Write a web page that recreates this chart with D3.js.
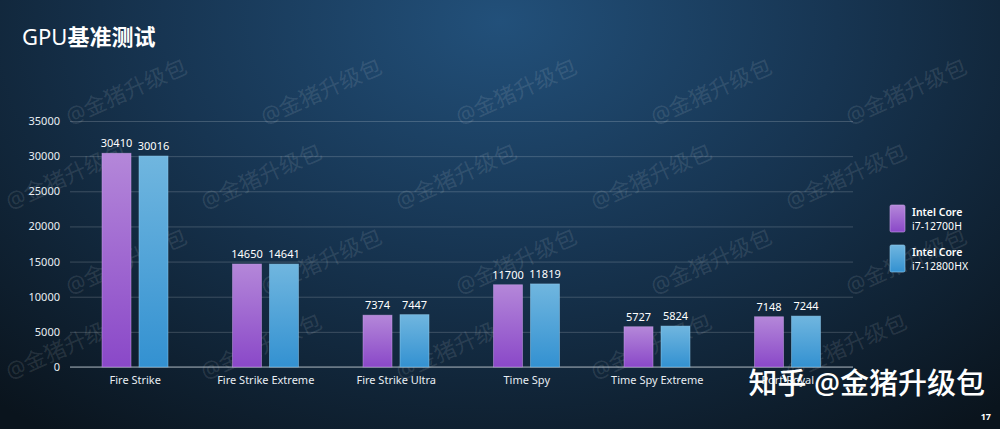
<!DOCTYPE html>
<html>
<head>
<meta charset="utf-8">
<script src="https://cdn.jsdelivr.net/npm/d3@7"></script>
<style>
  html, body { margin: 0; padding: 0; background: #0b1620; }
  svg { display: block; }
  text { font-family: "Noto Sans", "Noto Sans CJK SC", sans-serif; }
</style>
</head>
<body>
<div id="chart"></div>
<script>
// chart data
const categories = ["Fire Strike", "Fire Strike Extreme", "Fire Strike Ultra", "Time Spy", "Time Spy Extreme", "Port Royal"];
const seriesNames = ["i7-12700H", "i7-12800HX"];
const h12700 = [30410, 14650, 7374, 11700, 5727, 7148];
const hx12800 = [30016, 14641, 7447, 11819, 5824, 7244];
const yTicks = [0, 5000, 10000, 15000, 20000, 25000, 30000, 35000];

const W = 1000, H = 429;
const svg = d3.select("#chart").append("svg").attr("width", W).attr("height", H);
const defs = svg.append("defs");

// background: dark navy with a lighter glow near the top centre
const bg = defs.append("radialGradient").attr("id", "bg")
  .attr("cx", "0.5").attr("cy", "0.05").attr("r", "0.75")
  .attr("gradientTransform", "translate(0.5 0.05) scale(1 1.6) translate(-0.5 -0.05)");
bg.append("stop").attr("offset", "0").attr("stop-color", "#22507a");
bg.append("stop").attr("offset", "0.45").attr("stop-color", "#173552");
bg.append("stop").attr("offset", "1").attr("stop-color", "#0a141d");
svg.append("rect").attr("width", W).attr("height", H).attr("fill", "url(#bg)");

// faint tiled watermark (only copies that fit inside the page)
const wm = svg.append("g").attr("fill", "#ffffff").attr("fill-opacity", 0.11)
  .style("font-size", "22px");
for (let r = -1; r < 7; r++) {
  for (let c = -1; c < 6; c++) {
    const x = c * 195 + (r % 2) * 60 + 10;
    const y = r * 85 + 40;
    if (x < 2 || x + 128 > W || y - 62 < 0 || y + 6 > H) continue;
    wm.append("text").attr("transform", `translate(${x},${y}) rotate(-24)`).text("@金猪升级包");
  }
}

// title
const title = svg.append("text").attr("x", 22).attr("y", 45).attr("fill", "#ffffff")
  .style("font-size", "22px");
title.append("tspan").style("font-weight", "400").text("GPU");
title.append("tspan").style("font-weight", "bold").text("基准测试");

const margin = { left: 70, right: 147, top: 121, bottom: 62 };
const x0 = d3.scaleBand().domain(categories).range([margin.left, W - margin.right]).paddingInner(0).paddingOuter(0);
const x1 = d3.scaleBand().domain(seriesNames).range([32, 98]).paddingInner(0.216).paddingOuter(0);
const y = d3.scaleLinear().domain([0, 35000]).range([H - margin.bottom, margin.top]);

// grid lines and tick labels
const yAxis = svg.append("g").attr("transform", `translate(${margin.left},0)`)
  .call(d3.axisLeft(y).tickValues(yTicks).tickSize(-(W - margin.right - margin.left)).tickPadding(10).tickFormat(d3.format("d")));
yAxis.select(".domain").remove();
yAxis.selectAll(".tick line").attr("stroke", "#ffffff").attr("stroke-opacity", 0.18);
yAxis.selectAll(".tick text").attr("fill", "#e8eef3").style("font-size", "11px");

// baseline
svg.append("line").attr("x1", margin.left).attr("x2", W - margin.right)
  .attr("y1", y(0)).attr("y2", y(0)).attr("stroke", "#9aa6b0").attr("stroke-width", 1.2);

// bar gradients
const grads = [
  { id: "gPurple", top: "#b487d9", bottom: "#8a48c8", stroke: "#c9a3ea" },
  { id: "gBlue", top: "#70b6df", bottom: "#3391d1", stroke: "#92cdef" }
];
grads.forEach(g => {
  const lg = defs.append("linearGradient").attr("id", g.id).attr("x1", 0).attr("y1", 0).attr("x2", 0).attr("y2", 1);
  lg.append("stop").attr("offset", "0").attr("stop-color", g.top);
  lg.append("stop").attr("offset", "1").attr("stop-color", g.bottom);
});

const seriesValues = [h12700, hx12800];
const rows = categories.map((c, i) => ({
  cat: c,
  vals: seriesNames.map((s, j) => ({ s, j, v: seriesValues[j][i] }))
}));

const groups = svg.selectAll(".grp").data(rows).join("g")
  .attr("transform", d => `translate(${x0(d.cat)},0)`);

groups.selectAll("rect").data(d => d.vals).join("rect")
  .attr("x", d => x1(d.s))
  .attr("y", d => y(d.v))
  .attr("width", x1.bandwidth())
  .attr("height", d => y(0) - y(d.v))
  .attr("fill", d => `url(#${grads[d.j].id})`)
  .attr("stroke", d => grads[d.j].stroke).attr("stroke-opacity", 0.6).attr("stroke-width", 0.8);

groups.selectAll("text.val").data(d => d.vals).join("text")
  .attr("class", "val")
  .attr("x", d => x1(d.s) + x1.bandwidth() / 2)
  .attr("y", d => y(d.v) - 6)
  .attr("text-anchor", "middle").attr("fill", "#ffffff").style("font-size", "11px")
  .text(d => d.v);

// category labels
svg.append("g").selectAll("text").data(categories).join("text")
  .attr("x", d => x0(d) + x0.bandwidth() / 2)
  .attr("y", 384)
  .attr("text-anchor", "middle").attr("fill", "#e8eef3").style("font-size", "11px")
  .text(d => d);

// legend
const legend = svg.append("g").attr("transform", "translate(890,205)");
seriesNames.forEach((s, i) => {
  const g = legend.append("g").attr("transform", `translate(0,${i * 40})`);
  g.append("rect").attr("width", 15).attr("height", 27).attr("rx", 1.5)
    .attr("fill", `url(#${grads[i].id})`).attr("stroke", grads[i].stroke).attr("stroke-opacity", 0.6);
  g.append("text").attr("x", 22).attr("y", 11).attr("fill", "#ffffff")
    .style("font-size", "10.5px").style("font-weight", "600").text("Intel Core");
  g.append("text").attr("x", 22).attr("y", 25).attr("fill", "#ffffff")
    .style("font-size", "10.5px").text(s);
});

// foreground watermark and page number
svg.append("text").attr("x", 985).attr("y", 394).attr("text-anchor", "end")
  .attr("fill", "#ffffff").style("font-size", "29px").style("font-weight", "500")
  .text("知乎 @金猪升级包");
svg.append("text").attr("x", 991).attr("y", 420).attr("text-anchor", "end")
  .attr("fill", "#ffffff").style("font-size", "9px").style("font-weight", "bold").text("17");
</script>
</body>
</html>
